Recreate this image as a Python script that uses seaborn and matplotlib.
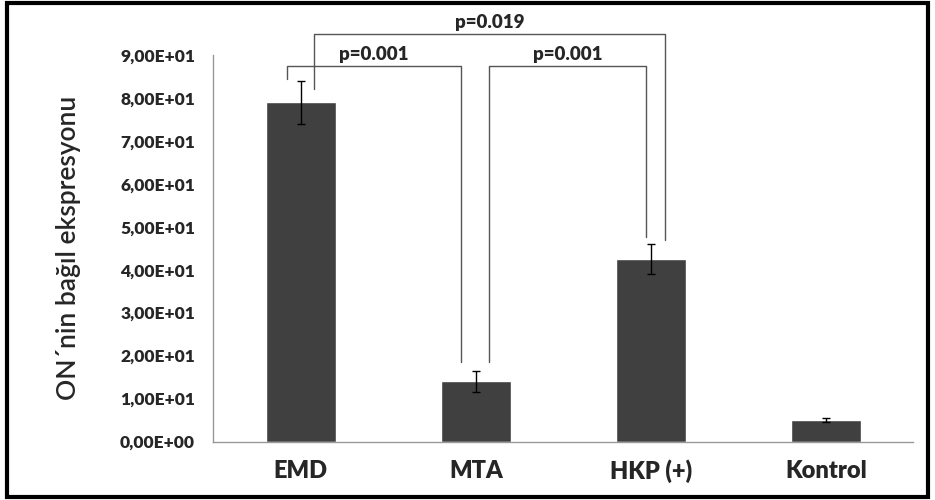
import numpy as np
import pandas as pd
import matplotlib
matplotlib.use("Agg")
import matplotlib.pyplot as plt
import seaborn as sns
from matplotlib.ticker import FuncFormatter, FixedLocator
from matplotlib.patches import Rectangle

# veri
gruplar = ["EMD", "MTA", "HKP (+)", "Kontrol"]
ortalama = [79.0, 14.0, 42.5, 5.0]
hata = [5.0, 2.5, 3.5, 0.5]

# karsilastirmalar: (sol x, sol bacak alt, sag x, sag bacak alt, ust, etiket)
karsilastirma = [
    (-0.08, 84.4, 0.915, 18.4, 87.5, "p=0.001"),
    (1.075, 18.4, 1.97, 47.7, 87.5, "p=0.001"),
    (0.075, 82.0, 2.08, 47.0, 95.0, "p=0.019"),
]

sns.set_style("white")
plt.rcParams['font.family'] = ['Lato', 'DejaVu Sans']

df = pd.DataFrame({"grup": gruplar, "deger": ortalama})

fig = plt.figure(figsize=(9.35, 5), dpi=100)
ax = fig.add_axes([0.228, 0.117, 0.749, 0.773])

sns.barplot(data=df, x="grup", y="deger", color="#404040", width=0.4,
            saturation=1, errorbar=None, ax=ax)
ax.errorbar(np.arange(len(gruplar)), ortalama, yerr=hata, fmt="none",
            ecolor="black", elinewidth=1, capsize=3, capthick=1)

ax.set_xlim(-0.5, 3.5)
ax.set_ylim(0, 90)
ax.set_yticks(np.arange(0, 91, 10))
ax.yaxis.set_major_formatter(FuncFormatter(lambda v, p: f"{v:.2E}".replace(".", ",")))

# kategori sinirlarinda x tikleri
ax.xaxis.set_minor_locator(FixedLocator([-0.5, 0.5, 1.5, 2.5, 3.5]))
ax.tick_params(axis="x", which="major", length=0, pad=13, labelsize=17)
ax.tick_params(axis="x", which="minor", length=6, color="#999999", width=1, direction="out")
ax.tick_params(axis="y", length=5, color="#999999", width=1, direction="out", labelsize=12.5, pad=8)
for lab in ax.get_xticklabels() + ax.get_yticklabels():
    lab.set_fontweight("heavy")

for s in ["top", "right"]:
    ax.spines[s].set_visible(False)
for s in ["left", "bottom"]:
    ax.spines[s].set_color("#999999")
    ax.spines[s].set_linewidth(1)

ax.set_xlabel("")
ax.set_ylabel("ON´nin bağıl ekspresyonu", fontsize=19, fontweight="semibold", labelpad=28)

for x1, y1, x2, y2, ust, etiket in karsilastirma:
    ax.plot([x1, x1, x2, x2], [y1, ust, ust, y2], color="#555555", lw=1, clip_on=False)
    ax.text((x1 + x2) / 2, ust + 0.6, etiket, ha="center", va="bottom",
            fontsize=13.5, fontweight="heavy")

# dis cerceve
fig.patches.append(Rectangle((0.008, 0.006), 0.984, 0.988, transform=fig.transFigure,
                             fill=False, edgecolor="black", linewidth=3))

fig.savefig("out.png", dpi=100)
